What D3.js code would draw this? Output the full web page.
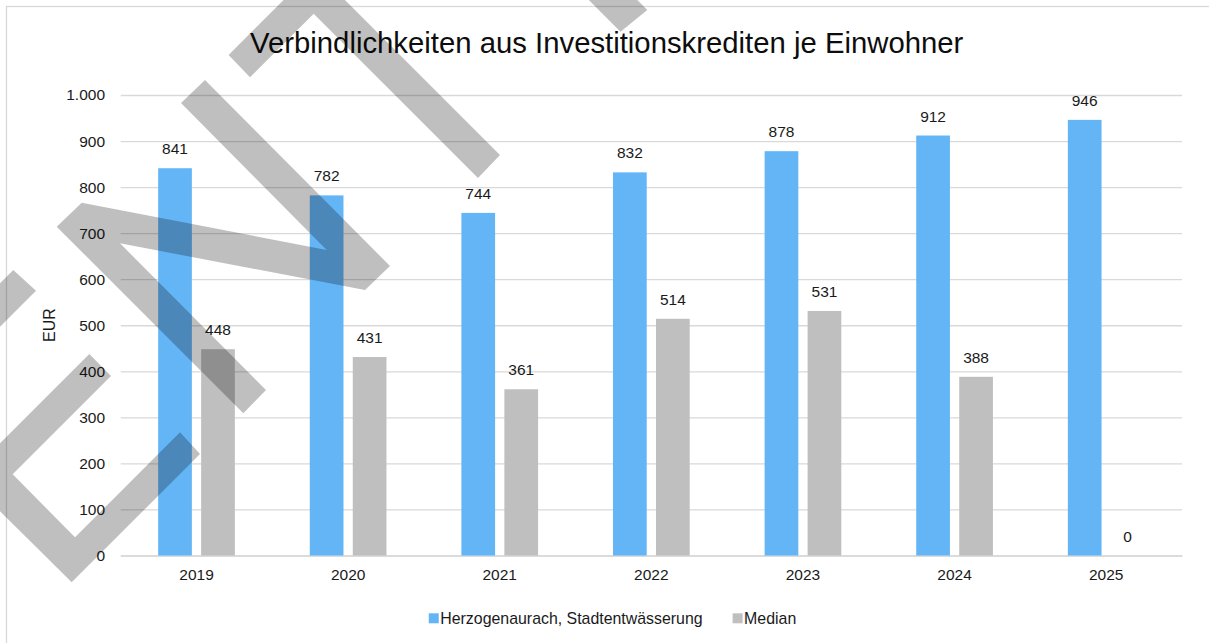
<!DOCTYPE html>
<html>
<head>
<meta charset="utf-8">
<script src="https://cdn.jsdelivr.net/npm/d3@7/dist/d3.min.js"></script>
<style>
  html, body { margin: 0; padding: 0; background: #fff; }
  svg { display: block; }
  text { font-family: "Liberation Sans", Arial, sans-serif; fill: #1a1a1a; }
</style>
</head>
<body>
<svg id="chart" width="1209" height="643"></svg>
<script>
// Chart data
const categories = ["2019", "2020", "2021", "2022", "2023", "2024", "2025"];
const seriesNames = ["Herzogenaurach, Stadtentwässerung", "Median"];
const herzogenaurach = [841, 782, 744, 832, 878, 912, 946];
const median = [448, 431, 361, 514, 531, 388, 0];
const yTickValues = [0, 100, 200, 300, 400, 500, 600, 700, 800, 900, 1000];
const titleText = "Verbindlichkeiten aus Investitionskrediten je Einwohner";
const yAxisTitle = "EUR";

const colors = ["#64B5F6", "#BFBFBF"];
const gridColor = "#D9D9D9";

const W = 1209, H = 643;
const plot = { left: 120.7, right: 1182, top: 95, bottom: 555.5 };

const svg = d3.select("#chart");

// German number format: 1.000
const de = d3.formatLocale({ decimal: ",", thousands: ".", grouping: [3], currency: ["", " €"] });
const fmt = de.format(",d");

// Outer chart frame
svg.append("rect")
  .attr("x", 6.5).attr("y", 6.5)
  .attr("width", W + 20).attr("height", H + 20)
  .attr("fill", "none").attr("stroke", gridColor).attr("stroke-width", 1.3);

// Scales
const x = d3.scaleBand().domain(categories).range([plot.left, plot.right]).paddingInner(0).paddingOuter(0);
const y = d3.scaleLinear().domain([0, 1000]).range([plot.bottom, plot.top]);
const span = 76.7;
const xInner = d3.scaleBand().domain([0, 1])
  .range([x.bandwidth() / 2 - span / 2, x.bandwidth() / 2 + span / 2])
  .paddingInner(0.216).paddingOuter(0);

// Y axis with gridlines
const yAxis = svg.append("g")
  .attr("transform", `translate(${plot.left},0)`)
  .call(d3.axisLeft(y).tickValues(yTickValues).tickFormat(fmt)
    .tickSize(-(plot.right - plot.left)).tickPadding(15.7));
yAxis.select(".domain").remove();
yAxis.selectAll(".tick line").attr("stroke", gridColor).attr("stroke-width", 1.3);
yAxis.selectAll(".tick text")
  .attr("font-size", "15.5px").attr("fill", "#1a1a1a")
  .style("font-family", '"Liberation Sans", Arial, sans-serif');

// X axis
const xAxis = svg.append("g")
  .attr("transform", `translate(0,${plot.bottom})`)
  .call(d3.axisBottom(x).tickSize(0).tickPadding(13.5));
xAxis.select(".domain").attr("stroke", gridColor).attr("stroke-width", 1.3);
xAxis.selectAll(".tick text")
  .attr("font-size", "15.5px").attr("fill", "#1a1a1a")
  .style("font-family", '"Liberation Sans", Arial, sans-serif');

// Bars
const rows = categories.map((c, i) => ({ cat: c, values: [herzogenaurach[i], median[i]] }));
const groups = svg.append("g").selectAll("g")
  .data(rows).join("g")
  .attr("transform", d => `translate(${x(d.cat)},0)`);

groups.selectAll("rect")
  .data(d => d.values.map((v, s) => ({ v, s })))
  .join("rect")
  .attr("x", d => xInner(d.s))
  .attr("width", xInner.bandwidth())
  .attr("y", d => y(d.v))
  .attr("height", d => y(0) - y(d.v))
  .attr("fill", d => colors[d.s]);

// Value labels
groups.selectAll("text.val")
  .data(d => d.values.map((v, s) => ({ v, s })))
  .join("text")
  .attr("class", "val")
  .attr("x", d => xInner(d.s) + xInner.bandwidth() / 2)
  .attr("y", d => y(d.v) - 14)
  .attr("text-anchor", "middle")
  .attr("font-size", "15.5px")
  .text(d => fmt(d.v));

// Title
svg.append("text")
  .attr("x", 606.7).attr("y", 53)
  .attr("text-anchor", "middle")
  .attr("font-size", "29.3px")
  .style("fill", "#0d0d0d")
  .text(titleText);

// Y axis title
svg.append("text")
  .attr("transform", "translate(55,325) rotate(-90)")
  .attr("text-anchor", "middle")
  .attr("font-size", "16px")
  .text(yAxisTitle);

// Legend
const legend = svg.append("g");
let lx = 0;
seriesNames.forEach((name, i) => {
  const g = legend.append("g").attr("transform", `translate(${lx},0)`);
  g.append("rect").attr("x", 0).attr("y", -10.7).attr("width", 10).attr("height", 10).attr("fill", colors[i]);
  const t = g.append("text").attr("x", 11.5).attr("y", 0).attr("font-size", "15.9px").text(name);
  lx += 11.5 + t.node().getComputedTextLength() + 30;
});
const legendWidth = lx - 30;
legend.attr("transform", `translate(${612.5 - legendWidth / 2},624)`);

// Diagonal "draft" watermark strokes over the chart
const watermark = [
  [[228.6, 55], [314.3, -30.7], [500, 155], [478, 178], [313.7, 13.7], [250, 77.3]],
  [[243.3, 413.3], [56.7, 226.7], [81.7, 202.7], [326.7, 250], [181, 103], [205, 80],
   [390, 266], [365, 290], [120, 243.3], [266, 390]],
  [[89.3, 354], [111, 376], [12.7, 474.3], [75, 537.3], [180, 432.3], [200, 454],
   [71.7, 582.3], [-34.2, 477.5]],
  [[13.3, 270], [36, 290.7], [-40, 366.7], [-40, 323.3]],
  [[647.3, 10], [620.5, 31.7], [548.8, -40], [597.3, -40]]
];
svg.append("g").selectAll("path")
  .data(watermark).join("path")
  .attr("d", d => d3.line()(d) + "Z")
  .attr("fill", "rgba(0,0,0,0.25)");
</script>
</body>
</html>
